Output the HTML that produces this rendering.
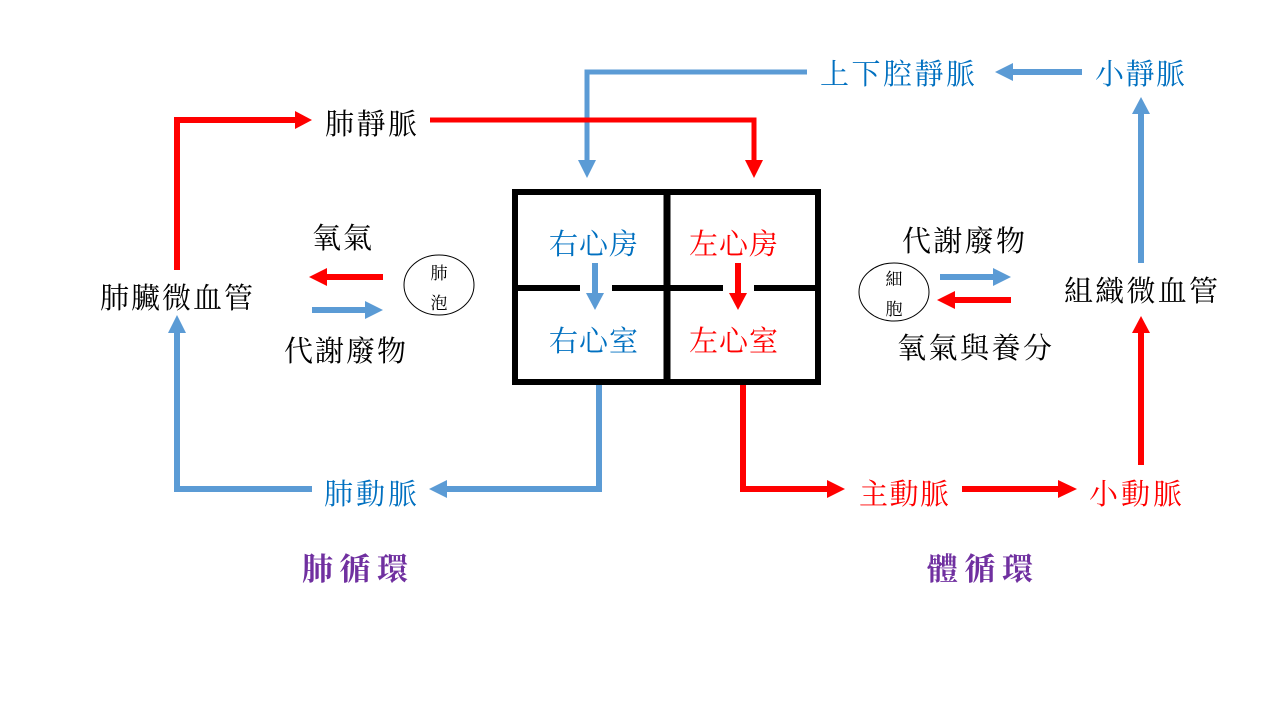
<!DOCTYPE html>
<html>
<head>
<meta charset="utf-8">
<style>
  html,body{margin:0;padding:0;background:#fff;}
  svg{display:block;}
  text{font-family:"Liberation Serif","Noto Serif CJK SC","Noto Sans CJK TC",serif;font-size:29px;}
  .b{fill:#0070C0;}
  .r{fill:#FF0000;}
  .k{fill:#000;}
  .p{fill:#7030A0;font-weight:bold;font-size:31px;}
  .s{font-size:17px;fill:#000;}
</style>
</head>
<body>
<svg width="1280" height="720" viewBox="0 0 1280 720" xmlns="http://www.w3.org/2000/svg">
  <rect width="1280" height="720" fill="#fff"/>

  <!-- Heart box -->
  <rect x="515" y="192" width="303" height="190" fill="none" stroke="#000" stroke-width="6"/>
  <line x1="667" y1="192" x2="667" y2="382" stroke="#000" stroke-width="7"/>
  <line x1="515" y1="288" x2="580" y2="288" stroke="#000" stroke-width="6"/>
  <line x1="612" y1="288" x2="723" y2="288" stroke="#000" stroke-width="6"/>
  <line x1="754" y1="288" x2="818" y2="288" stroke="#000" stroke-width="6"/>

  <!-- heart inner arrows -->
  <line x1="595" y1="263" x2="595" y2="294" stroke="#5B9BD5" stroke-width="6"/>
  <polygon points="586,293 604,293 595,310" fill="#5B9BD5"/>
  <line x1="738" y1="263" x2="738" y2="294" stroke="#FF0000" stroke-width="6"/>
  <polygon points="729,293 747,293 738,310" fill="#FF0000"/>

  <!-- Blue: vena cava into right atrium -->
  <polyline points="807,72 587,72 587,161" fill="none" stroke="#5B9BD5" stroke-width="5"/>
  <polygon points="578,160 596,160 587,178" fill="#5B9BD5"/>

  <!-- Red: pulmonary vein into left atrium -->
  <polyline points="430,120 754,120 754,161" fill="none" stroke="#FF0000" stroke-width="5"/>
  <polygon points="745,160 763,160 754,178" fill="#FF0000"/>

  <!-- Red: lung capillaries up to pulmonary vein -->
  <polyline points="177,270 177,120 296,120" fill="none" stroke="#FF0000" stroke-width="6"/>
  <polygon points="295,111 295,129 312,120" fill="#FF0000"/>

  <!-- Blue: pulmonary artery to lung capillaries -->
  <polyline points="312,489 177,489 177,332" fill="none" stroke="#5B9BD5" stroke-width="6"/>
  <polygon points="168,333 186,333 177,315" fill="#5B9BD5"/>

  <!-- Blue: right ventricle to pulmonary artery -->
  <polyline points="599,385 599,489 446,489" fill="none" stroke="#5B9BD5" stroke-width="6"/>
  <polygon points="447,480 447,498 429,489" fill="#5B9BD5"/>

  <!-- Red: left ventricle to aorta -->
  <polyline points="743,385 743,489 828,489" fill="none" stroke="#FF0000" stroke-width="6"/>
  <polygon points="827,480 827,498 845,489" fill="#FF0000"/>

  <!-- Red: aorta to arterioles -->
  <line x1="962" y1="489" x2="1059" y2="489" stroke="#FF0000" stroke-width="6"/>
  <polygon points="1058,480 1058,498 1077,489" fill="#FF0000"/>

  <!-- Red: arterioles up to tissue capillaries -->
  <line x1="1141" y1="465" x2="1141" y2="332" stroke="#FF0000" stroke-width="6"/>
  <polygon points="1132,333 1150,333 1141,316" fill="#FF0000"/>

  <!-- Blue: tissue capillaries up to venules -->
  <line x1="1141" y1="263" x2="1141" y2="113" stroke="#5B9BD5" stroke-width="6"/>
  <polygon points="1132,114 1150,114 1141,97" fill="#5B9BD5"/>

  <!-- Blue: venules to vena cava -->
  <line x1="1082" y1="72" x2="1012" y2="72" stroke="#5B9BD5" stroke-width="6"/>
  <polygon points="1013,63 1013,81 995,72" fill="#5B9BD5"/>

  <!-- Lung exchange arrows -->
  <line x1="383" y1="277" x2="326" y2="277" stroke="#FF0000" stroke-width="6"/>
  <polygon points="327,268 327,286 309,277" fill="#FF0000"/>
  <line x1="312" y1="310" x2="366" y2="310" stroke="#5B9BD5" stroke-width="6"/>
  <polygon points="365,301 365,319 383,310" fill="#5B9BD5"/>

  <!-- Cell exchange arrows -->
  <line x1="940" y1="277" x2="994" y2="277" stroke="#5B9BD5" stroke-width="6"/>
  <polygon points="993,268 993,286 1011,277" fill="#5B9BD5"/>
  <line x1="1011" y1="300" x2="954" y2="300" stroke="#FF0000" stroke-width="6"/>
  <polygon points="955,291 955,309 937,300" fill="#FF0000"/>

  <!-- Ellipses -->
  <ellipse cx="439" cy="285" rx="35" ry="30" fill="#fff" stroke="#000" stroke-width="1"/>
  <ellipse cx="894" cy="292" rx="35" ry="29" fill="#fff" stroke="#000" stroke-width="1"/>
  <text class="s" x="439" y="279" text-anchor="middle">肺</text>
  <text class="s" x="439" y="309" text-anchor="middle">泡</text>
  <text class="s" x="894" y="285" text-anchor="middle">細</text>
  <text class="s" x="894" y="315" text-anchor="middle">胞</text>

  <!-- Labels -->
  <text class="k" x="325" y="134" textLength="92" lengthAdjust="spacing">肺靜脈</text>
  <text class="b" x="820" y="84" textLength="155" lengthAdjust="spacing">上下腔靜脈</text>
  <text class="b" x="1095" y="84" textLength="90" lengthAdjust="spacing">小靜脈</text>
  <text class="k" x="312" y="248" textLength="60" lengthAdjust="spacing">氧氣</text>
  <text class="k" x="284" y="361" textLength="122" lengthAdjust="spacing">代謝廢物</text>
  <text class="k" x="100" y="308" textLength="153" lengthAdjust="spacing">肺臟微血管</text>

  <text class="b" x="549" y="254" textLength="89" lengthAdjust="spacing">右心房</text>
  <text class="r" x="689" y="254" textLength="89" lengthAdjust="spacing">左心房</text>
  <text class="b" x="549" y="351" textLength="89" lengthAdjust="spacing">右心室</text>
  <text class="r" x="689" y="351" textLength="89" lengthAdjust="spacing">左心室</text>

  <text class="b" x="324" y="504" textLength="93" lengthAdjust="spacing">肺動脈</text>
  <text class="r" x="859" y="504" textLength="90" lengthAdjust="spacing">主動脈</text>
  <text class="r" x="1089" y="504" textLength="93" lengthAdjust="spacing">小動脈</text>

  <text class="k" x="902" y="251" textLength="123" lengthAdjust="spacing">代謝廢物</text>
  <text class="k" x="897" y="358" textLength="155" lengthAdjust="spacing">氧氣與養分</text>
  <text class="k" x="1064" y="301" textLength="154" lengthAdjust="spacing">組織微血管</text>

  <text class="p" x="302" y="580" textLength="106" lengthAdjust="spacing">肺循環</text>
  <text class="p" x="927" y="580" textLength="106" lengthAdjust="spacing">體循環</text>
</svg>
</body>
</html>
